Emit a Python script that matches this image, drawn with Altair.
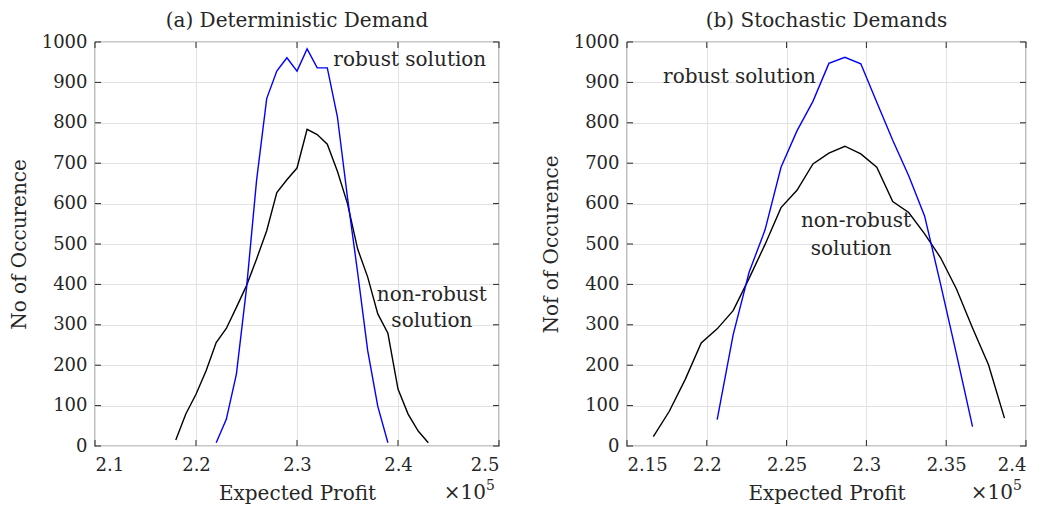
import altair as alt
import pandas as pd

# ---------------- data ----------------
# (a) Deterministic demand
a_nonrobust_x = [2.18, 2.19, 2.20, 2.21, 2.22, 2.23, 2.24, 2.25, 2.26, 2.27, 2.28, 2.29, 2.30,
                 2.31, 2.32, 2.33, 2.34, 2.35, 2.36, 2.37, 2.38, 2.39, 2.40, 2.41, 2.42, 2.43]
a_nonrobust_y = [15, 80, 128, 186, 256, 291, 343, 397, 463, 533, 627, 659, 688,
                 784, 771, 747, 680, 600, 488, 418, 327, 279, 141, 79, 37, 8]
a_robust_x = [2.22, 2.23, 2.24, 2.25, 2.26, 2.27, 2.28, 2.29, 2.30,
              2.31, 2.32, 2.33, 2.34, 2.35, 2.36, 2.37, 2.38, 2.39]
a_robust_y = [8, 66, 178, 390, 658, 860, 928, 961, 928,
              983, 936, 936, 815, 615, 430, 236, 98, 8]

# (b) Stochastic demands
b_nonrobust_x = [2.1665, 2.1765, 2.1865, 2.1965, 2.2065, 2.2165, 2.2265, 2.2365, 2.2465,
                 2.2565, 2.2665, 2.2765, 2.2865, 2.2965, 2.3065, 2.3165, 2.3265, 2.3365,
                 2.3465, 2.3565, 2.3665, 2.3765, 2.3865]
b_nonrobust_y = [23, 86, 165, 255, 290, 335, 415, 499, 590,
                 633, 698, 725, 742, 723, 690, 605, 578, 525,
                 466, 388, 292, 201, 69]
b_robust_x = [2.2065, 2.2165, 2.2265, 2.2365, 2.2465, 2.2565, 2.2665, 2.2765, 2.2865,
              2.2965, 2.3065, 2.3165, 2.3265, 2.3365, 2.3465, 2.3565, 2.3665]
b_robust_y = [65, 275, 430, 535, 690, 780, 853, 947, 962,
              946, 851, 757, 669, 569, 400, 226, 48]

a_xticks = [2.1, 2.2, 2.3, 2.4, 2.5]
b_xticks = [2.15, 2.2, 2.25, 2.3, 2.35, 2.4]
yticks = [0, 100, 200, 300, 400, 500, 600, 700, 800, 900, 1000]

a_labels = ["robust solution", "non-robust", "solution"]
a_label_x = [2.336, 2.4335, 2.4335]
a_label_y = [955, 375, 310]
a_label_align = ["left", "center", "center"]
b_labels = ["robust solution", "non-robust", "solution"]
b_label_x = [2.2205, 2.2935, 2.2905]
b_label_y = [914, 557, 487]
b_label_align = ["center", "center", "center"]

exp_base = "×10"
exp_power = "5"

FONT = "DejaVu Serif"
TXT = "#262626"
FS = 20      # titles and annotations
FT = 18      # tick labels
W_A, W_B, H = 404, 399, 404


def panel(title, ytitle, xdom, xticks, nx, ny, rx, ry, labels, lx, ly, lalign, width):
    lines = pd.concat([
        pd.DataFrame({"x": nx, "y": ny, "s": "non-robust"}),
        pd.DataFrame({"x": rx, "y": ry, "s": "robust"}),
    ])
    xs = alt.Scale(domain=xdom, nice=False, zero=False)
    ys = alt.Scale(domain=[0, 1000], nice=False)
    common = dict(grid=True, gridColor="#e2e2e2", domain=False, ticks=False,
                  labelFont=FONT, labelFontSize=FT, labelColor=TXT,
                  titleFont=FONT, titleFontSize=FS, titleColor=TXT,
                  titleFontWeight="normal")
    xax = alt.Axis(values=xticks, format="~g", title="Expected Profit",
                   labelPadding=10, titlePadding=9, **common)
    yax = alt.Axis(values=yticks, format="d", title=ytitle,
                   labelPadding=8, titlePadding=12, **common)

    base = alt.Chart(lines).mark_line(strokeWidth=1.4).encode(
        x=alt.X("x:Q", scale=xs, axis=xax),
        y=alt.Y("y:Q", scale=ys, axis=yax),
        color=alt.Color("s:N", scale=alt.Scale(domain=["non-robust", "robust"],
                                               range=["#000000", "#0000ff"]), legend=None),
        detail="s:N",
    )

    xt = pd.DataFrame({"x": xticks})
    yt = pd.DataFrame({"y": yticks})
    tick_style = dict(color=TXT, strokeWidth=1)
    bt = alt.Chart(xt).mark_rule(**tick_style).encode(
        x=alt.X("x:Q", scale=xs), y=alt.value(H), y2=alt.value(H - 6))
    tt = alt.Chart(xt).mark_rule(**tick_style).encode(
        x=alt.X("x:Q", scale=xs), y=alt.value(0), y2=alt.value(6))
    lt = alt.Chart(yt).mark_rule(**tick_style).encode(
        y=alt.Y("y:Q", scale=ys), x=alt.value(0), x2=alt.value(6))
    rt = alt.Chart(yt).mark_rule(**tick_style).encode(
        y=alt.Y("y:Q", scale=ys), x=alt.value(width - 6), x2=alt.value(width))

    lab = pd.DataFrame({"t": labels, "x": lx, "y": ly, "a": lalign})
    texts = []
    for al in ["left", "center"]:
        sub = lab[lab["a"] == al]
        if len(sub):
            texts.append(alt.Chart(sub).mark_text(font=FONT, fontSize=FS, color=TXT,
                                                  align=al, baseline="middle").encode(
                x=alt.X("x:Q", scale=xs), y=alt.Y("y:Q", scale=ys), text="t:N"))

    exp1 = alt.Chart(pd.DataFrame({"t": [exp_base]})).mark_text(
        font=FONT, fontSize=FS, color=TXT, align="right", baseline="alphabetic").encode(
        x=alt.value(width - 13), y=alt.value(H + 53), text="t:N")
    exp2 = alt.Chart(pd.DataFrame({"t": [exp_power]})).mark_text(
        font=FONT, fontSize=14, color=TXT, align="left", baseline="alphabetic").encode(
        x=alt.value(width - 13), y=alt.value(H + 44), text="t:N")

    return alt.layer(base, bt, tt, lt, rt, *texts, exp1, exp2).properties(
        width=width, height=H,
        title=alt.TitleParams(title, font=FONT, fontSize=FS, fontWeight="normal",
                              color=TXT, offset=2),
    )


left = panel("(a) Deterministic Demand", "No of Occurence", [2.1, 2.5], a_xticks,
             a_nonrobust_x, a_nonrobust_y, a_robust_x, a_robust_y,
             a_labels, a_label_x, a_label_y, a_label_align, W_A)
right = panel("(b) Stochastic Demands", "Nof of Occurence", [2.15, 2.4], b_xticks,
              b_nonrobust_x, b_nonrobust_y, b_robust_x, b_robust_y,
              b_labels, b_label_x, b_label_y, b_label_align, W_B)

chart = alt.hconcat(left, right, spacing=39).configure(
    padding={"left": 0, "top": 2, "right": 0, "bottom": 0}, background="white"
).configure_view(stroke=TXT, strokeWidth=1.2)

chart.save("out.html", embed_options={"renderer": "svg", "actions": False})
